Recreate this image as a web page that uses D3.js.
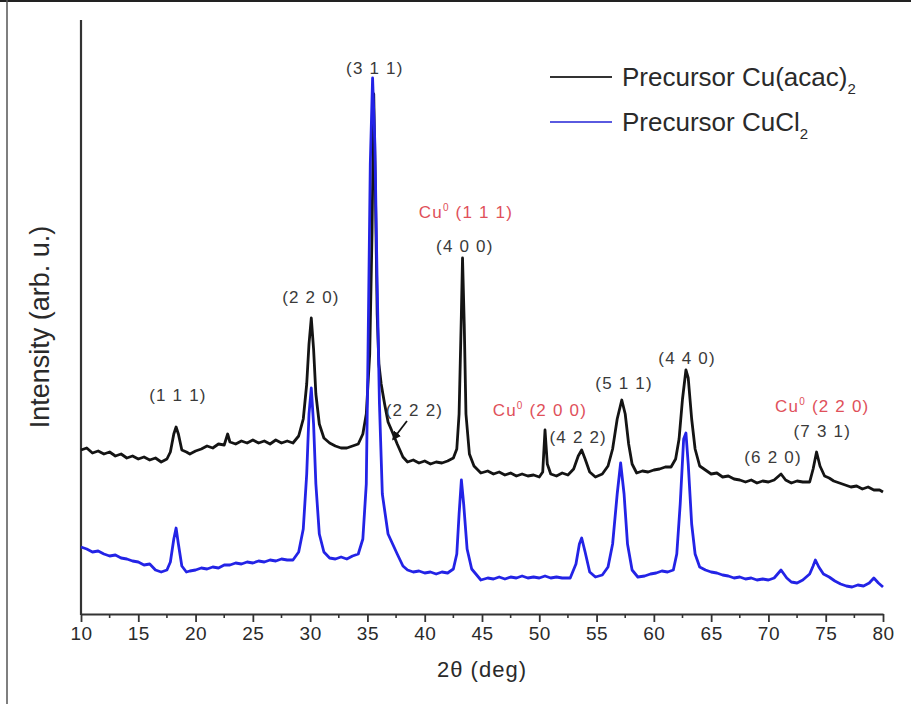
<!DOCTYPE html>
<html>
<head>
<meta charset="utf-8">
<script src="https://cdn.jsdelivr.net/npm/d3@7"></script>
<style>
  body { margin: 0; background: #fff; }
  svg { font-family: "Liberation Sans", Arial, sans-serif; }
</style>
</head>
<body>
<svg id="chart" width="911" height="704"></svg>
<script>
// 2theta (deg), intensity (arb. u.)
const cuAcac = [
  [10,164],[10.5,166],[11,161],[11.5,163],[12,160],[12.5,162],[13,158],[13.5,160],[14,156],[14.5,158],
  [15,155],[15.5,157],[16,154],[16.5,156],[17,152],[17.5,155],[17.8,162],[18.1,180],[18.3,187],[18.5,180],
  [18.8,164],[19.2,162],[19.5,160],[20,163],[20.5,165],[21,168],[21.5,166],[22,170],[22.5,169],[22.8,180],
  [23,172],[23.5,170],[24,173],[24.5,171],[25,174],[25.5,171],[26,173],[26.5,170],[27,174],[27.5,171],
  [28,173],[28.5,171],[29,178],[29.4,195],[29.7,230],[29.9,270],[30.1,296],[30.3,265],[30.5,220],[30.8,190],
  [31.2,176],[31.7,171],[32.2,168],[32.7,166],[33.2,166],[33.7,168],[34.2,170],[34.6,180],[34.9,200],[35.2,260],
  [35.4,380],[35.55,520],[35.7,420],[35.85,300],[36,250],[36.2,230],[36.5,210],[36.8,192],[37.1,184],[37.6,170],[38.1,157],
  [38.5,152],[39,154],[39.5,151],[40,153],[40.5,150],[41,152],[41.5,151],[42,153],[42.5,156],[42.8,165],
  [43,200],[43.2,300],[43.3,356],[43.45,290],[43.6,200],[43.9,160],[44.3,148],[44.9,141],[45.5,143],[46,140],
  [46.5,142],[47,139],[47.5,141],[48,138],[48.5,140],[49,138],[49.5,139],[50,137],[50.3,142],[50.5,184],
  [50.7,150],[51,140],[51.5,138],[52,141],[52.5,139],[53,145],[53.4,158],[53.7,164],[54,155],[54.4,142],
  [54.9,137],[55.5,140],[56,148],[56.4,165],[56.8,195],[57.2,214],[57.5,200],[57.8,170],[58.1,150],[58.5,141],
  [59,143],[59.5,142],[60,144],[60.5,145],[61,147],[61.5,147],[61.9,155],[62.2,175],[62.5,215],[62.8,244],
  [63,236],[63.3,195],[63.6,165],[64,148],[64.5,144],[65,140],[65.5,141],[66,137],[66.5,138],[67,135],
  [67.5,134],[68,132],[68.5,134],[69,131],[69.5,133],[70,132],[70.5,134],[71.1,140],[71.5,134],[72,131],
  [72.5,133],[73,132],[73.6,132],[73.9,145],[74.2,162],[74.5,148],[74.9,138],[75.3,136],[75.7,133],[76.2,131],
  [76.7,129],[77.2,127],[77.7,128],[78.2,125],[78.7,127],[79.2,124],[79.7,124],[80,122]
];
const cuCl2 = [
  [10,67],[10.5,65],[11,62],[11.5,63],[12,60],[12.5,58],[13,59],[13.5,56],[14,55],[14.5,53],
  [15,52],[15.5,49],[16,50],[16.5,44],[17,42],[17.5,44],[17.8,52],[18.1,75],[18.3,86],[18.5,70],
  [18.8,48],[19.2,42],[19.5,43],[20,44],[20.5,46],[21,45],[21.5,47],[22,46],[22.5,49],[23,49],
  [23.5,51],[24,50],[24.5,52],[25,51],[25.5,53],[26,52],[26.5,54],[27,53],[27.5,55],[28,54],
  [28.5,54],[29,62],[29.4,85],[29.7,140],[29.9,200],[30.1,226],[30.3,190],[30.5,130],[30.8,80],[31.2,62],
  [31.7,56],[32.2,55],[32.7,57],[33.2,55],[33.7,58],[34.2,60],[34.6,75],[34.9,130],[35.05,260],[35.25,450],
  [35.45,536],[35.65,470],[35.85,330],[36.05,210],[36.3,120],[36.8,80],[37.2,70],[37.6,60],[38.1,48],[38.5,44],
  [39,42],[39.5,43],[40,41],[40.5,42],[41,40],[41.5,42],[42,41],[42.5,45],[42.8,60],[43,100],
  [43.2,134],[43.4,110],[43.7,65],[44.1,45],[44.9,34],[45.5,36],[46,35],[46.5,37],[47,35],[47.5,37],
  [48,36],[48.5,38],[49,36],[49.5,37],[50,36],[50.5,38],[51,36],[51.5,37],[52,36],[52.7,36],
  [53.2,50],[53.5,70],[53.7,76],[54,62],[54.4,42],[54.9,37],[55.5,39],[56,47],[56.4,70],[56.8,120],
  [57.1,151],[57.4,120],[57.7,70],[58.1,44],[58.6,37],[59.2,38],[59.7,40],[60.2,41],[60.7,43],[61.2,42],
  [61.7,44],[62,60],[62.3,110],[62.6,175],[62.8,181],[63,150],[63.3,90],[63.6,60],[64,47],[64.5,44],
  [65,42],[65.5,41],[66,39],[66.5,38],[67,36],[67.5,37],[68,35],[68.5,36],[69,34],[69.5,35],
  [70,34],[70.5,36],[71.1,44],[71.6,36],[72,32],[72.5,31],[73,34],[73.6,40],[73.9,48],[74.1,54],
  [74.4,47],[74.8,40],[75.3,37],[75.8,33],[76.3,30],[76.8,28],[77.3,27],[77.8,29],[78.3,28],[78.8,31],
  [79.2,36],[79.6,31],[80,27]
];

const xTicks = d3.range(10, 81, 5);
const xMinorTicks = d3.range(12.5, 80, 5);

// peak annotations: [2theta, intensity, label, isCopper]
const peakLabels = [
  [18.46, 219, "(1 1 1)", false],
  [30.07, 317, "(2 2 0)", false],
  [35.65, 546, "(3 1 1)", false],
  [43.5, 368, "(4 0 0)", false],
  [39.1, 204, "(2 2 2)", false],
  [53.4, 177, "(4 2 2)", false],
  [57.4, 231, "(5 1 1)", false],
  [62.9, 256, "(4 4 0)", false],
  [74.7, 183, "(7 3 1)", false],
  [70.4, 157, "(6 2 0)", false],
  [43.6, 402, "(1 1 1)", true],
  [50.05, 204, "(2 0 0)", true],
  [74.7, 208, "(2 2 0)", true]
];
const arrow222 = [[38.45, 193], [37.25, 175]];

const seriesNames = ["Precursor Cu(acac)", "Precursor CuCl"];
const seriesColors = ["#141414", "#2323e6"];

const svg = d3.select("#chart");

// frame
svg.append("line").attr("x1", 0).attr("x2", 911).attr("y1", 1).attr("y2", 1)
  .attr("stroke", "#222").attr("stroke-width", 2);
svg.append("line").attr("x1", 7).attr("x2", 7).attr("y1", 0).attr("y2", 704)
  .attr("stroke", "#555").attr("stroke-width", 1.5);

const x = d3.scaleLinear().domain([10, 80]).range([81, 883]);
const y = d3.scaleLinear().domain([0, 594]).range([614, 20]);

const defs = svg.append("defs");
defs.append("marker")
  .attr("id", "arrowhead")
  .attr("viewBox", "0 0 10 10")
  .attr("refX", 8).attr("refY", 5)
  .attr("markerWidth", 5).attr("markerHeight", 5)
  .attr("orient", "auto")
  .append("path").attr("d", "M0,0 L10,5 L0,10 z").attr("fill", "#111");

// x axis
const xAxis = svg.append("g")
  .attr("transform", `translate(0,${y(0)})`)
  .call(d3.axisBottom(x).tickValues(xTicks).tickSize(8).tickSizeOuter(0).tickPadding(5));
xAxis.select(".domain").attr("stroke", "#333").attr("stroke-width", 2.2);
xAxis.selectAll(".tick line").attr("stroke", "#333").attr("stroke-width", 1.8);
xAxis.selectAll(".tick text").attr("font-size", 19).attr("fill", "#2a2a2a")
  .attr("letter-spacing", 0.5)
  .attr("font-family", "Liberation Sans, Arial, sans-serif");

svg.append("g")
  .selectAll("line")
  .data(xMinorTicks)
  .enter().append("line")
  .attr("x1", d => x(d)).attr("x2", d => x(d))
  .attr("y1", y(0)).attr("y2", y(0) + 4)
  .attr("stroke", "#333").attr("stroke-width", 1.6);

// y axis (no ticks)
svg.append("line")
  .attr("x1", x(10)).attr("x2", x(10))
  .attr("y1", y(0) + 1).attr("y2", y(594))
  .attr("stroke", "#333").attr("stroke-width", 2.2);

svg.append("text")
  .attr("x", x(45)).attr("y", 677)
  .attr("text-anchor", "middle")
  .attr("font-size", 22).attr("letter-spacing", 1).attr("fill", "#2a2a2a")
  .text("2θ (deg)");

svg.append("text")
  .attr("transform", "translate(49,327) rotate(-90)")
  .attr("text-anchor", "middle")
  .attr("font-size", 27).attr("fill", "#2a2a2a")
  .text("Intensity (arb. u.)");

// curves (blue drawn over black, as in the original)
const line = d3.line().x(d => x(d[0])).y(d => y(d[1]));
[cuAcac, cuCl2].forEach((s, i) => {
  svg.append("path")
    .datum(s)
    .attr("fill", "none")
    .attr("stroke", seriesColors[i])
    .attr("stroke-width", 2.8)
    .attr("stroke-linejoin", "round")
    .attr("d", line);
});

// annotations
const ann = svg.append("g").attr("font-size", 17).attr("letter-spacing", 1.2).attr("text-anchor", "middle");
peakLabels.forEach(p => {
  const t = ann.append("text")
    .attr("x", x(p[0])).attr("y", y(p[1]) + 6)
    .attr("fill", p[3] ? "#e0505a" : "#3a3a3a");
  if (p[3]) {
    t.append("tspan").text("Cu");
    t.append("tspan").attr("font-size", 10).attr("dy", -7).text("0");
    t.append("tspan").attr("dy", 7).text(" " + p[2]);
  } else {
    t.text(p[2]);
  }
});

svg.append("line")
  .attr("x1", x(arrow222[0][0])).attr("y1", y(arrow222[0][1]))
  .attr("x2", x(arrow222[1][0])).attr("y2", y(arrow222[1][1]))
  .attr("stroke", "#111").attr("stroke-width", 1.8)
  .attr("marker-end", "url(#arrowhead)");

// legend
const legend = svg.append("g");
seriesNames.forEach((name, i) => {
  const ly = 77 + i * 45;
  legend.append("line")
    .attr("x1", 550).attr("x2", 612).attr("y1", ly).attr("y2", ly)
    .attr("stroke", i === 0 ? "#333" : "#5a5ae0").attr("stroke-width", 1.8);
  const t = legend.append("text")
    .attr("x", 622).attr("y", ly + 9)
    .attr("font-size", 26).attr("fill", "#2a2a2a");
  t.append("tspan").text(name);
  t.append("tspan").attr("font-size", 15).attr("dy", 8).text("2");
});
</script>
</body>
</html>
